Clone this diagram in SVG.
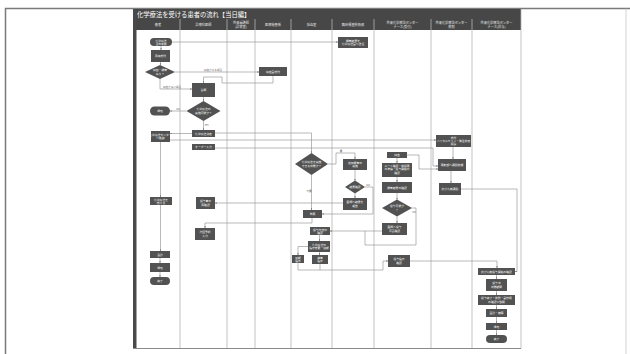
<svg xmlns="http://www.w3.org/2000/svg" width="630" height="354" viewBox="0 0 630 354">
  <defs>
    <marker id="ah" viewBox="0 0 6 6" refX="5.5" refY="3" markerWidth="3" markerHeight="3" orient="auto">
      <path d="M0,0 L6,3 L0,6 z" fill="#777"/>
    </marker>
    <style>
      .frame { fill: none; stroke: #7a7a7a; stroke-width: 1.5; }
      .lane { stroke: #b4b4b4; stroke-width: 0.8; fill: none; }
      .band { fill: #474747; }
      .title { fill: #ffffff; font-family: "Noto Sans CJK JP", "Noto Sans", sans-serif; font-size: 6.3px; }
      .hd { fill: #e8e8e8; font-family: "Noto Sans CJK JP", "Noto Sans", sans-serif; font-size: 3.2px; text-anchor: middle; }
      .n { fill: #525252; }
      .t { fill: #ffffff; font-family: "Noto Sans CJK JP", "Noto Sans", sans-serif; font-size: 2.8px; text-anchor: middle; }
      .lbl { fill: #666; font-family: "Noto Sans CJK JP", "Noto Sans", sans-serif; font-size: 2.6px; text-anchor: middle; }
      .c { fill: none; stroke: #8a8a8a; stroke-width: 0.6; }
      .ca { fill: none; stroke: #8a8a8a; stroke-width: 0.6; marker-end: url(#ah); }
    </style>
  </defs>

  <rect width="630" height="354" fill="#ffffff"/>

  <!-- page frame -->
  <path class="frame" d="M5.5,354 V8.5 H630"/>
  <line x1="626" y1="8.5" x2="626" y2="354" stroke="#c8c8c8" stroke-width="0.8"/>

  <!-- swimlane sheet -->
  <g id="sheet">
    <rect x="133" y="9" width="388" height="21" class="band"/>
    <rect x="133" y="9" width="3.5" height="340" fill="#4a4a4a"/>
    <line x1="133" y1="348.5" x2="521" y2="348.5" stroke="#8a8a8a" stroke-width="1"/>
    <line class="lane" x1="180" y1="19" x2="180" y2="348"/>
    <line class="lane" x1="227" y1="19" x2="227" y2="348"/>
    <line class="lane" x1="255" y1="19" x2="255" y2="348"/>
    <line class="lane" x1="291" y1="19" x2="291" y2="348"/>
    <line class="lane" x1="332" y1="19" x2="332" y2="348"/>
    <line class="lane" x1="374" y1="19" x2="374" y2="348"/>
    <line class="lane" x1="431" y1="19" x2="431" y2="348"/>
    <line class="lane" x1="472" y1="19" x2="472" y2="348"/>
    <line class="lane" x1="521" y1="9" x2="521" y2="348.5" stroke="#999"/>
    <text class="title" x="137" y="16.5">化学療法を受ける患者の流れ【当日編】</text>
    <text class="hd" x="158" y="25.5">患者</text>
    <text class="hd" x="203.5" y="25.5">診療科医師</text>
    <text class="hd" x="241" y="23.5">外来看護師</text>
    <text class="hd" x="241" y="27.5">(診察室)</text>
    <text class="hd" x="273" y="25.5">医療秘書係</text>
    <text class="hd" x="311.5" y="25.5">採血室</text>
    <text class="hd" x="353" y="25.5">臨床検査技術部</text>
    <text class="hd" x="402.5" y="23.5">外来化学療法センター</text>
    <text class="hd" x="402.5" y="27.5">ナース(受付)</text>
    <text class="hd" x="451.5" y="23.5">外来化学療法センター</text>
    <text class="hd" x="451.5" y="27.5">薬剤</text>
    <text class="hd" x="496.5" y="23.5">外来化学療法センター</text>
    <text class="hd" x="496.5" y="27.5">ナース(投与)</text>
  </g>

  <!-- connectors -->
  <g id="connectors">
    <path class="ca" d="M172,42 H338"/>
    <path class="ca" d="M161,46 V50"/>
    <path class="ca" d="M160.5,62 V65"/>
    <path class="ca" d="M175,72 H259"/>
    <path class="ca" d="M273,76 V83 H222 V77 H203.5 V83"/>
    <path class="ca" d="M160,79 V89 H192"/>
    <path class="ca" d="M203.5,97 V101"/>
    <path class="ca" d="M186.5,111 H170"/>
    <path class="ca" d="M203.5,121 V130"/>
    <path class="ca" d="M192,133.5 H170"/>
    <path class="ca" d="M215,133 H311.5 V153"/>
    <path class="ca" d="M170,140 H436"/>
    <path class="ca" d="M215,148 H433 V166 H438"/>
    <path class="ca" d="M453,147 V159"/>
    <path class="ca" d="M451,171 V183"/>
    <path class="ca" d="M461,189 H517 V271.5 H515"/>
    <path class="ca" d="M407,155 H419 V169 H438"/>
    <path class="ca" d="M397,158 V163"/>
    <path class="ca" d="M397,177 V182"/>
    <path class="ca" d="M397,193 V199.5"/>
    <path class="ca" d="M397,216.5 V223"/>
    <path class="c" d="M412,208 H416 V245 H365 V231"/>
    <path class="ca" d="M382,231 H330"/>
    <path class="ca" d="M328,164 H336 V153 H355 V159"/>
    <path class="ca" d="M355,170 V180.5"/>
    <path class="ca" d="M355,193.5 V198"/>
    <path class="ca" d="M365,187 H373 V214 H322"/>
    <path class="ca" d="M343,203 H215"/>
    <path class="ca" d="M311.5,175 V210"/>
    <path class="ca" d="M312,218 V223 H205 V228"/>
    <path class="ca" d="M319.5,235 V241"/>
    <path class="ca" d="M319.5,252 V255"/>
    <path class="ca" d="M308,246.5 H298 V255"/>
    <path class="ca" d="M298,263 V270 H383 V261 H388"/>
    <path class="c" d="M320,264 V270"/>
    <path class="ca" d="M410,261 H497 V268"/>
    <path class="ca" d="M496.5,275 V279"/>
    <path class="ca" d="M496.5,291 V295"/>
    <path class="ca" d="M496.5,305 V309"/>
    <path class="ca" d="M496.5,317 V323"/>
    <path class="ca" d="M496.5,330 V335"/>
    <path class="ca" d="M160.5,142 V197"/>
    <path class="ca" d="M160.5,205 V251"/>
    <path class="ca" d="M160,258 V263"/>
    <path class="ca" d="M160,272 V277"/>
    <text class="lbl" x="213" y="70.5">採血がある場合</text>
    <text class="lbl" x="172" y="88">採血がない場合</text>
    <text class="lbl" x="178" y="110">No</text>
    <text class="lbl" x="206.5" y="126">Yes</text>
    <text class="lbl" x="341" y="152">要</text>
    <text class="lbl" x="309" y="192">不要</text>
    <text class="lbl" x="368" y="186">No</text>
    <text class="lbl" x="414" y="213">No</text>
  </g>

  <!-- nodes -->
  <g id="start"><rect class="n" x="150" y="38" width="22" height="8" rx="4"/><text class="t" x="161" y="41.5">化学療法</text><text class="t" x="161" y="44.7">当日来院</text></g>
  <g id="lab-order"><rect class="n" x="338" y="37" width="30" height="11"/><text class="t" x="353" y="41.5">検査結果を</text><text class="t" x="353" y="45">化学療法室へ送信</text></g>
  <g id="reception"><rect class="n" x="151" y="50" width="19" height="12"/><text class="t" x="160.5" y="57">再来受付</text></g>
  <g id="q-blood"><polygon class="n" points="160,65 175,72 160,79 145,72"/><text class="t" x="160" y="71.3">採血・検査</text><text class="t" x="160" y="74.5">あり？</text></g>
  <g id="blood-desk"><rect class="n" x="259" y="67" width="28" height="9"/><text class="t" x="273" y="72.5">採血室受付</text></g>
  <g id="exam"><rect class="n" x="192" y="83" width="23" height="14"/><text class="t" x="203.5" y="91">診察</text></g>
  <g id="q-possible"><polygon class="n" points="203.5,101 220.5,111 203.5,121 186.5,111"/><text class="t" x="203.5" y="110.3">化学療法の</text><text class="t" x="203.5" y="113.6">実施可能か？</text></g>
  <g id="go-home"><rect class="n" x="150" y="106.5" width="20" height="9" rx="4.5"/><text class="t" x="160" y="112">帰宅</text></g>
  <g id="decide"><rect class="n" x="192" y="130" width="23" height="7"/><text class="t" x="203.5" y="134.5">化学療法決定</text></g>
  <g id="move"><rect class="n" x="151" y="131" width="19" height="11"/><text class="t" x="160.5" y="135.5">化学療法センター</text><text class="t" x="160.5" y="138.8">へ移動</text></g>
  <g id="order"><rect class="n" x="192" y="144" width="23" height="6"/><text class="t" x="203.5" y="148">オーダー入力</text></g>
  <g id="center-desk"><rect class="n" x="436" y="135" width="35" height="12"/><text class="t" x="453.5" y="138.7">受付</text><text class="t" x="453.5" y="141.9">バイタルサイン・体重測定</text><text class="t" x="453.5" y="145.1">問診</text></g>
  <g id="mix-request"><rect class="n" x="438" y="159" width="28" height="12"/><text class="t" x="452" y="166">薬剤部へ調製依頼</text></g>
  <g id="mixing"><rect class="n" x="439" y="183" width="22" height="12"/><text class="t" x="450" y="190">抗がん剤調製</text></g>
  <g id="blood-draw"><rect class="n" x="387" y="152" width="20" height="6"/><text class="t" x="397" y="156">採血</text></g>
  <g id="route"><rect class="n" x="382" y="163" width="30" height="14"/><text class="t" x="397" y="167">ルート確保・前投薬</text><text class="t" x="397" y="170.3">の準備・投与開始の</text><text class="t" x="397" y="173.6">確認</text></g>
  <g id="result-check"><rect class="n" x="382" y="182" width="30" height="11"/><text class="t" x="397" y="188.5">検査結果の確認</text></g>
  <g id="q-admin"><polygon class="n" points="397,199.5 412,208 397,216.5 382,208"/><text class="t" x="397" y="207.3">投与可能か</text><text class="t" x="397" y="210.5">？</text></g>
  <g id="ask-doctor"><rect class="n" x="382" y="223" width="25" height="12"/><text class="t" x="394.5" y="228.3">医師へ投与</text><text class="t" x="394.5" y="231.6">可否確認</text></g>
  <g id="confirm-order"><rect class="n" x="388" y="255" width="22" height="12"/><text class="t" x="399" y="260.3">投与指示</text><text class="t" x="399" y="263.6">確認</text></g>
  <g id="q-state"><polygon class="n" points="311.5,153 328,164 311.5,175 295,164"/><text class="t" x="311.5" y="163.3">化学療法を実施</text><text class="t" x="311.5" y="166.6">できる状態か？</text></g>
  <g id="extra-test"><rect class="n" x="343" y="159" width="24" height="11"/><text class="t" x="355" y="163.8">追加検査の</text><text class="t" x="355" y="167.1">実施</text></g>
  <g id="q-result"><polygon class="n" points="355,180.5 365,187 355,193.5 345,187"/><text class="t" x="355" y="188">結果確認</text></g>
  <g id="report"><rect class="n" x="343" y="198" width="24" height="12"/><text class="t" x="355" y="203.3">医師へ結果を</text><text class="t" x="355" y="206.6">報告</text></g>
  <g id="dose-check"><rect class="n" x="196" y="197" width="19" height="12"/><text class="t" x="205.5" y="202.3">投与量の</text><text class="t" x="205.5" y="205.6">再確認</text></g>
  <g id="receive"><rect class="n" x="150" y="197" width="22" height="8"/><text class="t" x="161" y="200.5">化学療法を</text><text class="t" x="161" y="203.6">受ける</text></g>
  <g id="rest"><rect class="n" x="303" y="210" width="19" height="8"/><text class="t" x="312.5" y="215">休薬</text></g>
  <g id="next-visit"><rect class="n" x="195" y="228" width="20" height="12"/><text class="t" x="205" y="233.3">次回予約</text><text class="t" x="205" y="236.6">入力</text></g>
  <g id="content-check"><rect class="n" x="310" y="227" width="20" height="8"/><text class="t" x="320" y="230.5">投与内容の</text><text class="t" x="320" y="233.6">確認</text></g>
  <g id="change"><rect class="n" x="308" y="241" width="22" height="11"/><text class="t" x="319" y="245.8">化学療法の</text><text class="t" x="319" y="249.1">指示変更・延期</text></g>
  <g id="postpone"><rect class="n" x="292" y="255" width="12" height="8"/><text class="t" x="298" y="258.5">延期</text><text class="t" x="298" y="261.6">指示</text></g>
  <g id="reduce"><rect class="n" x="312" y="255" width="16" height="9"/><text class="t" x="320" y="259">減量</text><text class="t" x="320" y="262.2">指示</text></g>
  <g id="start-admin"><rect class="n" x="478" y="268" width="37" height="7"/><text class="t" x="496.5" y="272.5">抗がん剤投与開始の確認</text></g>
  <g id="observe"><rect class="n" x="486" y="279" width="21" height="12"/><text class="t" x="496.5" y="284.3">投与中</text><text class="t" x="496.5" y="287.6">状態観察</text></g>
  <g id="finish-admin"><rect class="n" x="478" y="295" width="37" height="10"/><text class="t" x="496.5" y="299.3">投与終了・抜針・副作用</text><text class="t" x="496.5" y="302.6">の確認と説明</text></g>
  <g id="billing-c"><rect class="n" x="486" y="309" width="21" height="8"/><text class="t" x="496.5" y="314">会計・精算</text></g>
  <g id="leave-c"><rect class="n" x="486" y="323" width="21" height="7"/><text class="t" x="496.5" y="327.5">帰宅</text></g>
  <g id="end-c"><rect class="n" x="486" y="335" width="21" height="8" rx="4"/><text class="t" x="496.5" y="340">終了</text></g>
  <g id="billing-p"><rect class="n" x="150" y="251" width="20" height="7"/><text class="t" x="160" y="255.5">会計</text></g>
  <g id="leave-p"><rect class="n" x="150" y="263" width="20" height="9"/><text class="t" x="160" y="268.5">帰宅</text></g>
  <g id="end-p"><rect class="n" x="150" y="277" width="20" height="8" rx="4"/><text class="t" x="160" y="282">終了</text></g>
</svg>
